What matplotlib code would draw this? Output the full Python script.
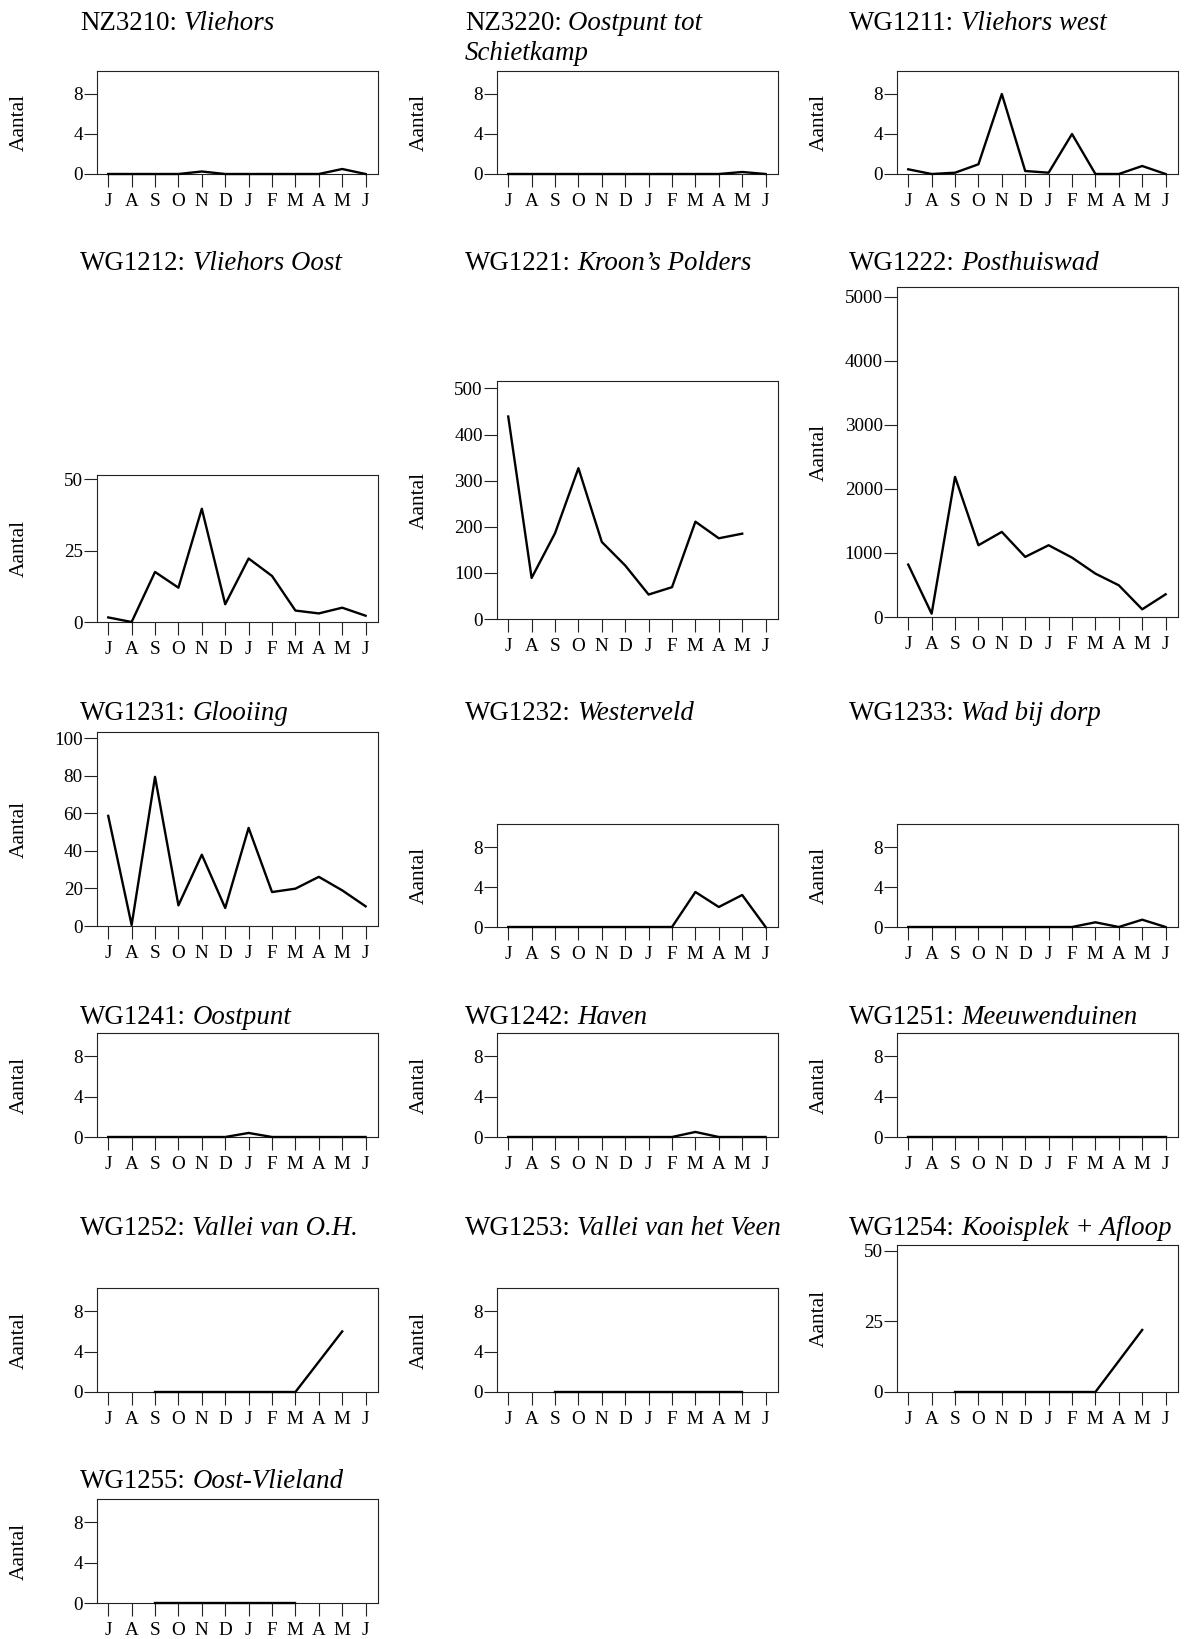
import numpy as np
import matplotlib
matplotlib.use('Agg')
import matplotlib.pyplot as plt

plt.rcParams['font.family'] = 'Liberation Serif'

nan = np.nan
months = ['J', 'A', 'S', 'O', 'N', 'D', 'J', 'F', 'M', 'A', 'M', 'J']

# counts per month, July .. June (nan = not counted)
nz3210 = [0, 0, 0, 0, 0.25, 0, 0, 0, 0, 0, 0.5, 0]
nz3220 = [0, 0, 0, 0, 0, 0, 0, 0, 0, 0, 0.2, 0]
wg1211 = [0.47, 0, 0.13, 0.97, 8.0, 0.3, 0.13, 4.0, 0, 0, 0.8, 0]
wg1212 = [1.6, 0, 17.5, 12, 39.6, 6.2, 22.2, 16.1, 4.0, 3.0, 5.0, 2.2]
wg1221 = [439, 89, 186, 327, 167, 116, 53, 69, 211, 175, 185, nan]
wg1222 = [818, 52, 2187, 1120, 1328, 938, 1120, 927, 677, 495, 120, 354]
wg1231 = [58.7, 0.5, 79.5, 11, 38, 9.6, 52.3, 18.1, 19.9, 26.2, 19.0, 10.5]
wg1232 = [0, 0, 0, 0, 0, 0, 0, 0, 3.5, 2.0, 3.2, 0]
wg1233 = [0, 0, 0, 0, 0, 0, 0, 0, 0.47, 0, 0.73, 0]
wg1241 = [0, 0, 0, 0, 0, 0, 0.4, 0, 0, 0, 0, 0]
wg1242 = [0, 0, 0, 0, 0, 0, 0, 0, 0.5, 0, 0, 0]
wg1251 = [0, 0, 0, 0, 0, 0, 0, 0, 0, 0, 0, 0]
wg1252 = [nan, nan, 0, 0, 0, 0, 0, 0, 0, 3, 6, nan]
wg1253 = [nan, nan, 0, 0, 0, 0, 0, 0, 0, 0, 0, nan]
wg1254 = [nan, nan, 0, 0, 0, 0, 0, 0, 0, 11, 22, nan]
wg1255 = [nan, nan, 0, 0, 0, 0, 0, 0, 0, nan, nan, nan]

codes = ['NZ3210', 'NZ3220', 'WG1211', 'WG1212', 'WG1221', 'WG1222',
         'WG1231', 'WG1232', 'WG1233', 'WG1241', 'WG1242', 'WG1251',
         'WG1252', 'WG1253', 'WG1254', 'WG1255']
names = ['Vliehors', 'Oostpunt tot', 'Vliehors west', 'Vliehors Oost',
         'Kroon\u2019s Polders', 'Posthuiswad', 'Glooiing', 'Westerveld',
         'Wad bij dorp', 'Oostpunt', 'Haven', 'Meeuwenduinen',
         'Vallei van O.H.', 'Vallei van het Veen', 'Kooisplek + Afloop',
         'Oost-Vlieland']
series = [nz3210, nz3220, wg1211, wg1212, wg1221, wg1222, wg1231, wg1232,
          wg1233, wg1241, wg1242, wg1251, wg1252, wg1253, wg1254, wg1255]
yticks = [[0, 4, 8], [0, 4, 8], [0, 4, 8], [0, 25, 50],
          [0, 100, 200, 300, 400, 500], [0, 1000, 2000, 3000, 4000, 5000],
          [0, 20, 40, 60, 80, 100], [0, 4, 8], [0, 4, 8], [0, 4, 8],
          [0, 4, 8], [0, 4, 8], [0, 4, 8], [0, 4, 8], [0, 25, 50], [0, 4, 8]]
ytop = [10.3, 10.3, 10.3, 51.4, 516, 5150, 103.4, 10.3, 10.3, 10.3,
        10.3, 10.3, 10.3, 10.3, 52.1, 10.3]

# layout in pixels: column left edges, panel top/bottom, title baselines
W, H = 1185, 1639
col_x = [97, 497, 897]
col_title_x = [80, 465, 849]
boxes = [(71, 174), (71, 174), (71, 174),
         (475, 622), (381, 619), (287, 617),
         (732, 926), (824, 927), (824, 927),
         (1033, 1137), (1033, 1137), (1033, 1137),
         (1288, 1392), (1288, 1392), (1245, 1392),
         (1499, 1603)]
title_y = [30, 270, 720, 1024, 1235, 1488]
ax_w = 281

fig = plt.figure(figsize=(W / 100, H / 100), dpi=100)

for i, vals in enumerate(series):
    row, col = divmod(i, 3)
    top, bot = boxes[i]
    x0 = col_x[col]
    ax = fig.add_axes([x0 / W, 1 - bot / H, ax_w / W, (bot - top) / H])
    ax.plot(range(12), vals, color='black', lw=1.7, clip_on=False, zorder=3)
    ax.set_xlim(-0.48, 11.53)
    ax.set_ylim(0, ytop[i])
    ax.set_xticks(range(12))
    ax.set_xticklabels(months)
    ax.set_yticks(yticks[i])
    ax.tick_params(direction='out', length=9.5, width=0.8, color='#222222',
                   labelsize=13.8)
    ax.tick_params(axis='x', pad=4.5)
    ax.tick_params(axis='y', pad=0.8)
    for s in ax.spines.values():
        s.set_linewidth(0.8)
        s.set_color('#222222')
    ax.set_ylabel('Aantal', fontsize=15.5, va='center')
    ax.yaxis.set_label_coords(-0.278, 0.5)

    # title: plain code followed by the italic site name
    tx = col_title_x[col] / W
    ty = 1 - title_y[row] / H
    t1 = fig.text(tx, ty, codes[i] + ':', fontsize=19.4, va='baseline',
                  ha='left')
    ax.annotate(names[i], xy=(1, 0), xycoords=t1, xytext=(4.85, 0),
                textcoords='offset points', fontsize=19.4, style='italic',
                va='bottom', ha='left', annotation_clip=False)
    if codes[i] == 'NZ3220':
        fig.text(tx, 1 - 60 / H, 'Schietkamp', fontsize=19.4, style='italic',
                 va='baseline', ha='left')

fig.savefig('out.png', dpi=100)
